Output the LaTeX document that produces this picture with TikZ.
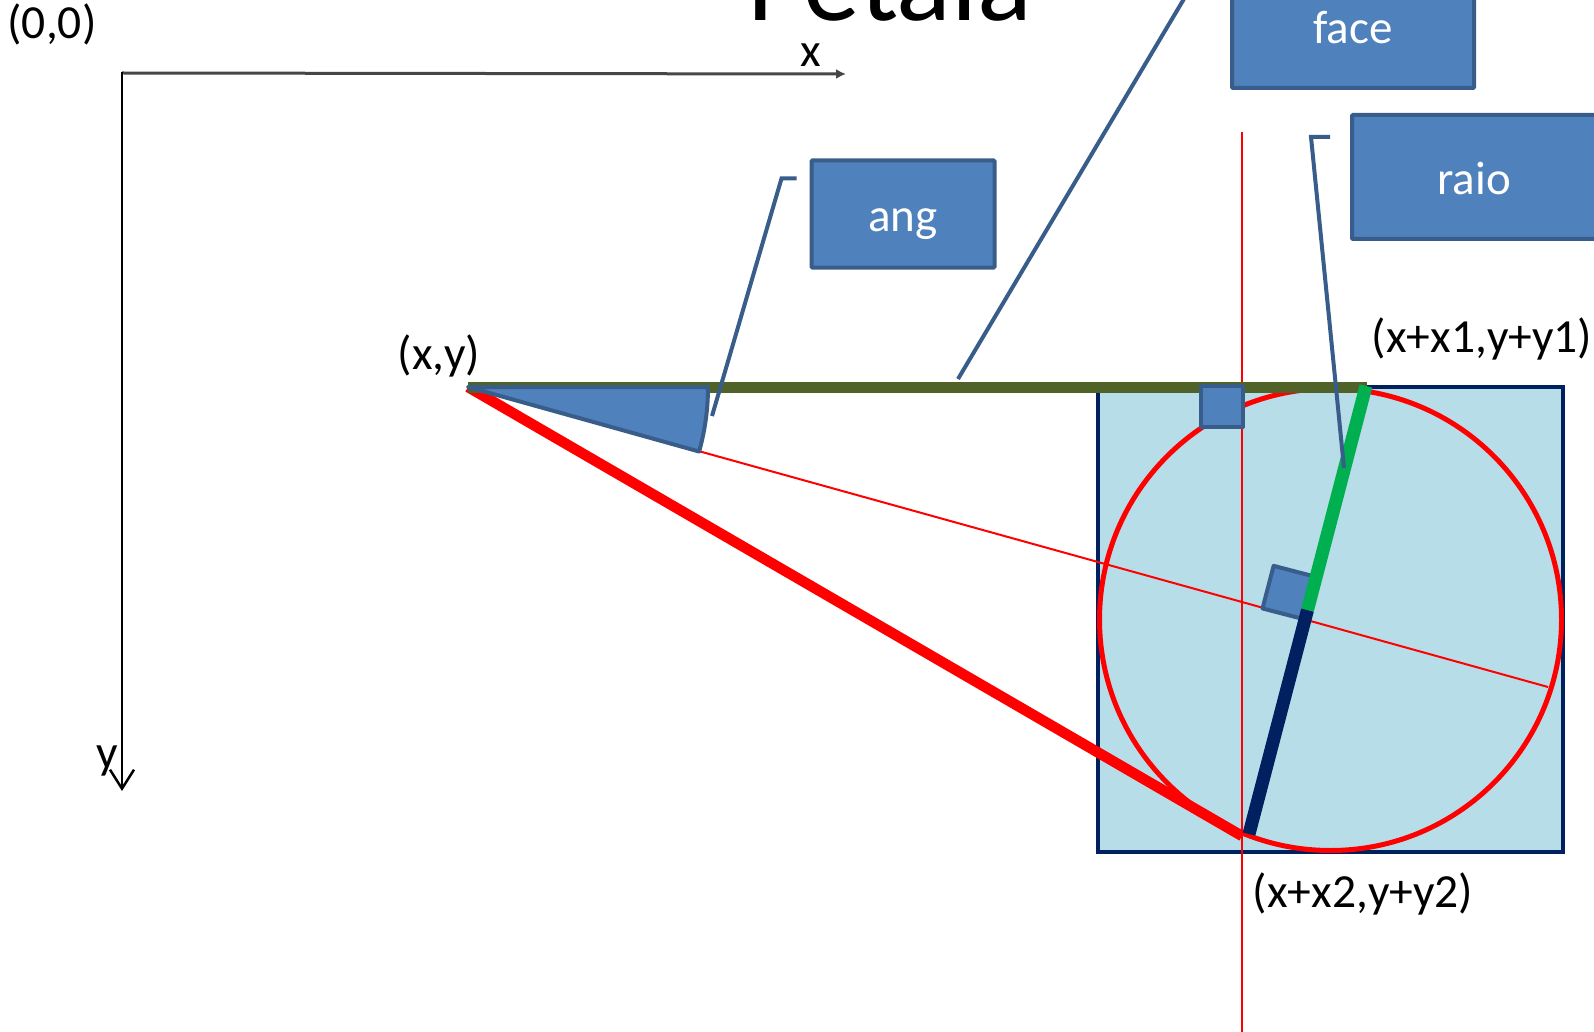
\documentclass[tikz,border=0pt]{standalone}
\usepackage{fontspec}
\setmainfont{Carlito}
\usetikzlibrary{arrows.meta,calc}
\definecolor{boxfill}{HTML}{4F81BD}
\definecolor{boxline}{HTML}{385D8A}
\definecolor{navyline}{HTML}{002060}
\definecolor{lblue}{HTML}{B7DDE8}
\definecolor{oliveline}{HTML}{4F6228}
\definecolor{greenbar}{HTML}{00B050}
\begin{document}
\begin{tikzpicture}[x=1pt,y=1pt,
  lbl/.style={font=\fontsize{47.5}{52}\selectfont, inner sep=0pt, text=black},
  callout/.style={draw=boxline, fill=boxfill, line width=4pt, text=white,
    font=\fontsize{47}{52}\selectfont, inner sep=0pt, rounded corners=1pt,
    text height=36pt, text depth=0pt},
  leader/.style={draw=boxline, line width=4pt},
  marker/.style={draw=boxline, fill=boxfill, line width=4pt, line join=round},
  thinred/.style={draw=red, line width=2pt}]
\useasboundingbox (0,0) rectangle (1594,-1032);

% title (cut off at top)
\node[anchor=base west, inner sep=0pt, font=\fontsize{114}{124}\selectfont] (title) at (747,-21) {Pétala};

% axes
\coordinate (O) at (122,-73);
\coordinate (Xend) at (846,-74);
\coordinate (Ystart) at (122,-72);
\coordinate (Yend) at (122,-791);
\draw[line width=3pt, draw=gray!55!black, -{Latex[length=10pt,width=10pt]}] (O) -- (Xend);
\draw[line width=2.5pt, -{Straight Barb[length=19pt,width=24pt]}] (Ystart) -- (Yend);
\node[lbl, anchor=base] (origin) at (52,-39) {(0,0)};
\node[lbl, anchor=base] (xlab) at (811,-67) {x};
\node[lbl, anchor=base] (ylab) at (107,-768) {y};

% key points
\coordinate (P) at (468,-387);
\coordinate (E) at (1548,-687);
\coordinate (Q2) at (1242,-836);
\coordinate (D1) at (1366,-386);
\coordinate (D2) at (1249,-834);
\coordinate (Mid) at ($(D2)!0.5!(D1)$);
\coordinate (Ftop) at (1367,-387);
\coordinate (K) at (intersection of P--E and D2--D1);

% square and circle
\draw[fill=lblue, draw=navyline, line width=4pt] (1098,-387) rectangle (1563,-852);
\draw[red, line width=5pt] (1330.5,-619.5) circle[radius=231];

% construction lines
\draw[thinred] (1242,-132) -- (1242,-1040);
\draw[thinred] (P) -- (E);
\draw[red, line width=10.5pt] (P) -- (Q2);
\draw[oliveline, line width=11pt] (P) -- (Ftop);

% angle wedge
\filldraw[marker] (P) -- ++(240,0) arc[start angle=0, end angle=-15.6, radius=240] -- cycle;

% right-angle markers
\filldraw[marker] (K) -- ++(75.4:44) -- ++(165.4:44) -- ++(255.4:44) -- cycle;
\draw[navyline, line width=13pt] (D2) -- (Mid);
\draw[greenbar, line width=13pt] (Mid) -- (D1);
\filldraw[marker] (1201,-386) rectangle (1243,-427);

% callouts
\node[callout, minimum width=183pt, minimum height=107pt] (ang) at (903,-214) {ang};
\node[callout, minimum width=242pt, minimum height=124pt] (face) at (1353,-26) {face};
\node[callout, minimum width=244pt, minimum height=124pt] (raio) at (1474,-177) {raio};
\coordinate (angT) at (712,-416);
\coordinate (faceT) at (958,-379);
\coordinate (raioT) at (1344,-468);
\draw[leader] ($(ang.north west)+(-13,-20)$) -- ++(-15,0) -- (angT);
\draw[leader] ($(face.north west)+(-13,-20)$) -- ++(-23,0) -- (faceT);
\draw[leader] ($(raio.north west)+(-20,-24)$) -- ++(-19,0) -- (raioT);

% point labels
\node[lbl, anchor=base] (pxy) at (439,-369.5) {(x,y)};
\node[lbl, anchor=base] (p1) at (1482,-352) {(x+x1,y+y1)};
\node[lbl, anchor=base] (p2) at (1363,-907) {(x+x2,y+y2)};
\end{tikzpicture}
\end{document}
